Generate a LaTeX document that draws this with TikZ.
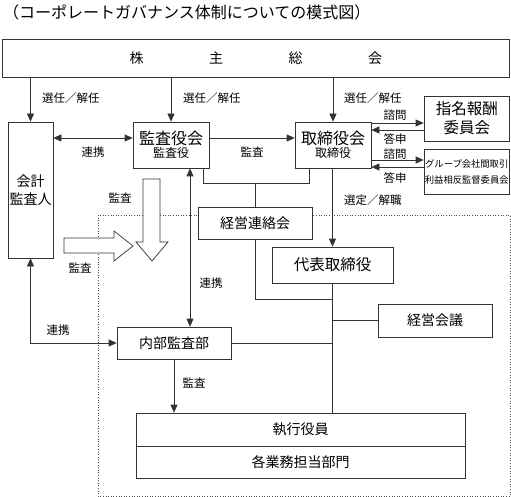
\documentclass[tikz,border=0pt]{standalone}
\usepackage{fontspec}
\setmainfont{Noto Sans CJK JP}
\usetikzlibrary{arrows.meta}
\begin{document}
\begin{tikzpicture}[x=1pt,y=-1pt,
  box/.style={draw=black!80, line width=0.7pt, fill=white, inner sep=0pt, align=center},
  ln/.style={draw=black!80, line width=0.7pt},
  arr/.style={ln, -{Triangle[length=8pt,width=7pt]}},
  arrtwo/.style={ln, {Triangle[length=8pt,width=7pt]}-{Triangle[length=8pt,width=7pt]}},
  lbl/.style={font=\fontsize{11.5}{12}\selectfont, inner sep=0pt},
  hollow/.style={draw=black!80, line width=0.7pt, fill=white, line join=miter},
  dotbox/.style={draw=black!70, line width=0.6pt, dotted}
]
\useasboundingbox (0,0) rectangle (511,497);

% title
\node[anchor=west, inner sep=0pt, font=\fontsize{16}{16}\selectfont] (title) at (3,12) {（コーポレートガバナンス体制についての模式図）};

% dotted region
\draw[dotbox] (98,215) rectangle (510,496);

% boxes
\node[box, minimum width=507.5pt, minimum height=38pt, font=\fontsize{14}{14}\selectfont] (sh) at (255.75,58) {株\hspace{65.5pt}主\hspace{65.5pt}総\hspace{65.5pt}会};
\node[box, minimum width=45pt, minimum height=136pt, font=\fontsize{14}{18}\selectfont] (kaikei) at (30.5,190) {会計\\監査人};
\node[box, minimum width=76pt, minimum height=46pt, font=\fontsize{12}{13.5}\selectfont] (kansa) at (171,145) {{\fontsize{16}{13.5}\selectfont 監査役会}\\監査役};
\node[box, minimum width=76pt, minimum height=46pt, font=\fontsize{12}{13.5}\selectfont] (tori) at (333,145) {{\fontsize{16}{13.5}\selectfont 取締役会}\\取締役};
\node[box, minimum width=85.5pt, minimum height=45pt, font=\fontsize{15.5}{19}\selectfont] (shimei) at (466.75,118.5) {指名報酬\\委員会};
\node[box, minimum width=85.5pt, minimum height=45pt, font=\fontsize{9.3}{16}\selectfont] (group) at (466.75,171.5) {グループ会社間取引\\利益相反監督委員会};
\node[box, minimum width=114pt, minimum height=32pt, font=\fontsize{14}{14}\selectfont] (keiren) at (255,223) {経営連絡会};
\node[box, minimum width=121pt, minimum height=36pt, font=\fontsize{15.5}{15.5}\selectfont] (daihyo) at (332.5,265) {代表取締役};
\node[box, minimum width=114pt, minimum height=33pt, font=\fontsize{14}{14}\selectfont] (keiei) at (435,320.5) {経営会議};
\node[box, minimum width=114pt, minimum height=32pt, font=\fontsize{14}{14}\selectfont] (naibu) at (174,343) {内部監査部};
\node[box, minimum width=329pt, minimum height=33pt, font=\fontsize{14}{14}\selectfont] (shikko) at (300.5,429.5) {執行役員};
\node[box, minimum width=329pt, minimum height=32pt, font=\fontsize{14}{14}\selectfont] (kakugyo) at (300.5,462) {各業務担当部門};

% election arrows
\draw[arr] (sh.south -| kaikei.north) -- (kaikei.north);
\draw[arr] (sh.south -| kansa.north) -- (kansa.north);
\draw[arr] (sh.south -| tori.north) -- (tori.north);
\node[lbl, anchor=west] (l1) at (42,98) {選任／解任};
\node[lbl, anchor=west] (l2) at (183,98) {選任／解任};
\node[lbl, anchor=west] (l3) at (344,98) {選任／解任};

% kaikei <-> kansa
\draw[arrtwo] (kaikei.east |- 0,138) -- (kansa.west |- 0,138);
\node[lbl] (l4) at (93,152) {連携};
% kansa -> tori
\draw[arr] (kansa.east |- 0,138) -- (tori.west |- 0,138);
\node[lbl] (l5) at (252,152) {監査};

% consultations
\draw[arr] (tori.east |- 0,123) -- (shimei.west |- 0,123);
\draw[arr] (shimei.west |- 0,130) -- (tori.east |- 0,130);
\draw[arr] (tori.east |- 0,160) -- (group.west |- 0,160);
\draw[arr] (group.west |- 0,167) -- (tori.east |- 0,167);
\node[lbl] (l6) at (395,115) {諮問};
\node[lbl] (l7) at (395,139) {答申};
\node[lbl] (l8) at (395,154) {諮問};
\node[lbl] (l9) at (395,178) {答申};

% kansa / tori -> keiren
\coordinate (jl) at (203,183);
\coordinate (jr) at (309,183);
\draw[ln] (kansa.south -| jl) -- (jl) -- (jr) -- (tori.south -| jr);
\draw[ln] (keiren.north |- jl) -- (keiren.north);
\coordinate (jk) at (255,299);
\draw[ln] (keiren.south) -- (jk) -- (daihyo.south |- jk);

% tori -> daihyo
\draw[arr] (tori.south -| daihyo.north) -- (daihyo.north);
\node[lbl, anchor=west] (l10) at (344,200) {選定／解職};
\draw[ln] (daihyo.south) -- (daihyo.south |- shikko.north);
\draw[ln] (daihyo.south |- keiei.west) -- (keiei.west);
\draw[ln] (naibu.east) -- (daihyo.south |- naibu.east);

% kansa <-> naibu
\draw[arrtwo] (kansa.south -| 190,0) -- (naibu.north -| 190,0);
\node[lbl] (l11) at (211,283) {連携};

% kaikei <-> naibu
\draw[arrtwo] (kaikei.south) |- (naibu.west);
\node[lbl] (l12) at (58,330) {連携};

% naibu -> shikko
\draw[arr] (naibu.south) -- (naibu.south |- shikko.north);
\node[lbl] (l13) at (194,383) {監査};

% hollow arrows
\draw[hollow] (143,179) -- (160,179) -- (160,242) -- (168,242) -- (152,261) -- (136,242) -- (143,242) -- cycle;
\draw[hollow] (64,238) -- (114,238) -- (114,231) -- (133,246) -- (114,261) -- (114,253) -- (64,253) -- cycle;
\node[lbl] (l14) at (120,198) {監査};
\node[lbl] (l15) at (80,268) {監査};
\end{tikzpicture}
\end{document}
